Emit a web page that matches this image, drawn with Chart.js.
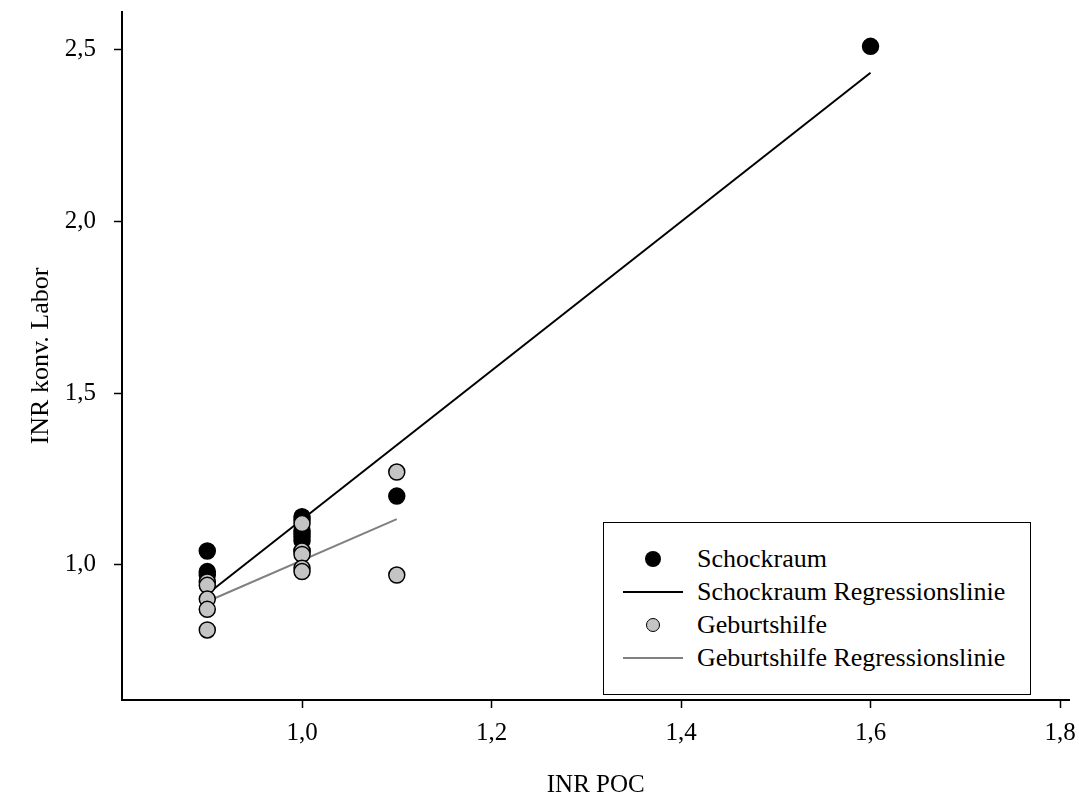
<!DOCTYPE html>
<html>
<head>
<meta charset="utf-8">
<script src="https://cdn.jsdelivr.net/npm/chart.js@4"></script>
<style>
  body { margin: 0; background: #fff; }
  #wrap { position: relative; width: 1079px; height: 805px; }
  #legend {
    position: absolute; left: 603px; top: 522px; width: 426px; height: 171px;
    border: 1.5px solid #000; background: #fff;
    font-family: 'Liberation Serif', 'Times New Roman', serif; font-size: 26px; color: #000;
  }
  .row { position: absolute; left: 0; height: 30px; line-height: 30px; width: 100%; }
  .row span { position: absolute; left: 93px; white-space: nowrap; }
  .dot { position: absolute; left: 41px; top: 7px; width: 16px; height: 16px; border-radius: 50%; background: #000; }
  .ring { position: absolute; left: 42px; top: 8px; width: 12px; height: 12px; border-radius: 50%; background: #c4c4c4; border: 1.5px solid #000; }
  .ln { position: absolute; left: 19px; top: 14px; width: 60px; height: 2px; }
</style>
</head>
<body>
<div id="wrap">
  <canvas id="chart" width="1079" height="805"></canvas>
  <div id="legend">
    <div class="row" style="top:21px"><div class="dot"></div><span>Schockraum</span></div>
    <div class="row" style="top:54px"><div class="ln" style="background:#000"></div><span>Schockraum Regressionslinie</span></div>
    <div class="row" style="top:87px"><div class="ring"></div><span>Geburtshilfe</span></div>
    <div class="row" style="top:120px"><div class="ln" style="background:#808080"></div><span>Geburtshilfe Regressionslinie</span></div>
  </div>
</div>
<script>
// Schockraum points (INR POC / INR konv. Labor)
var schockX = [0.9, 0.9, 0.9, 1.0, 1.0, 1.0, 1.0, 1.0, 1.0, 1.0, 1.1, 1.6];
var schockY = [1.04, 0.98, 0.97, 1.14, 1.13, 1.10, 1.09, 1.08, 1.07, 1.04, 1.20, 2.51];

// Geburtshilfe points
var geburtX = [0.9, 0.9, 0.9, 0.9, 0.9, 1.0, 1.0, 1.0, 1.0, 1.0, 1.1, 1.1];
var geburtY = [0.95, 0.94, 0.90, 0.87, 0.81, 1.12, 1.04, 1.03, 0.99, 0.98, 1.27, 0.97];

// regression line end points
var schockRegX = [0.9, 1.6];
var schockRegY = [0.915, 2.433];
var geburtRegX = [0.9, 1.1];
var geburtRegY = [0.893, 1.133];

var xTicks = [1.0, 1.2, 1.4, 1.6, 1.8];
var yTicks = [1.0, 1.5, 2.0, 2.5];

var serif = "'Liberation Serif', 'Times New Roman', serif";

function pts(xs, ys) {
    return xs.map(function (x, i) { return { x: x, y: ys[i] }; });
}
function comma(v) {
    return Number(v).toFixed(1).replace('.', ',');
}
// drop the label overhang padding so the axes sit where they should
function noPad(s) {
    s.paddingTop = 0;
    s.paddingBottom = 0;
    s.paddingLeft = 0;
    s.paddingRight = 0;
}

var ctx = document.getElementById('chart').getContext('2d');
var chart = new Chart(ctx, {
    type: 'scatter',
    data: {
        datasets: [
            {
                label: 'Schockraum',
                data: pts(schockX, schockY),
                backgroundColor: '#000',
                borderColor: '#000',
                borderWidth: 1.5,
                pointRadius: 8,
                order: 1
            },
            {
                label: 'Schockraum Regressionslinie',
                data: pts(schockRegX, schockRegY),
                showLine: true,
                borderColor: '#000',
                borderWidth: 2,
                pointRadius: 0,
                order: 2
            },
            {
                label: 'Geburtshilfe',
                data: pts(geburtX, geburtY),
                backgroundColor: '#c4c4c4',
                borderColor: '#000',
                borderWidth: 1.5,
                pointRadius: 8,
                order: 0
            },
            {
                label: 'Geburtshilfe Regressionslinie',
                data: pts(geburtRegX, geburtRegY),
                showLine: true,
                borderColor: '#808080',
                borderWidth: 2,
                pointRadius: 0,
                order: 2
            }
        ]
    },
    options: {
        responsive: false,
        animation: false,
        layout: { padding: { top: 12, right: 9, left: 0, bottom: 0 } },
        plugins: {
            legend: { display: false },
            tooltip: { enabled: false }
        },
        scales: {
            x: {
                type: 'linear',
                min: 0.81,
                max: 1.81,
                afterFit: function (s) { s.height = 105; noPad(s); },
                afterBuildTicks: function (s) { s.ticks = xTicks.map(function (v) { return { value: v }; }); },
                ticks: { callback: comma, color: '#000', padding: 10, font: { family: serif, size: 25 } },
                grid: { drawOnChartArea: false, tickLength: 8, tickColor: '#000', tickWidth: 1.5 },
                border: { color: '#000', width: 2 },
                title: { display: true, text: 'INR POC', color: '#000', font: { family: serif, size: 25 }, padding: { top: 0, bottom: 5 } }
            },
            y: {
                type: 'linear',
                min: 0.606,
                max: 2.61,
                afterFit: function (s) { s.width = 122; noPad(s); },
                afterBuildTicks: function (s) { s.ticks = yTicks.map(function (v) { return { value: v }; }); },
                ticks: { callback: comma, color: '#000', padding: 18, font: { family: serif, size: 25 } },
                grid: { drawOnChartArea: false, tickLength: 8, tickColor: '#000', tickWidth: 1.5 },
                border: { color: '#000', width: 2 },
                title: { display: true, text: 'INR konv. Labor', color: '#000', font: { family: serif, size: 26 }, padding: { top: 26, bottom: 0 } }
            }
        }
    }
});
</script>
</body>
</html>
